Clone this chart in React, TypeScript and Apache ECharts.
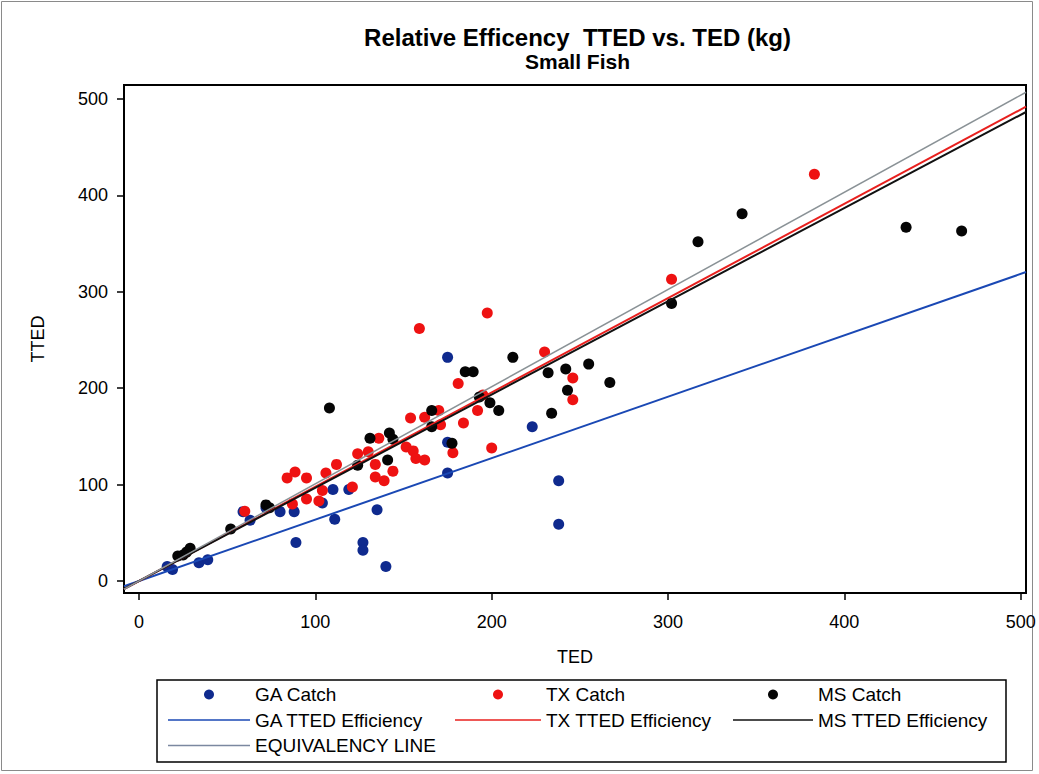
import React, { useEffect, useRef } from "react";
import * as echarts from "echarts";

// ---- data ----
const GA_X = [16, 19, 34, 39, 59, 63, 72, 80, 88, 89, 104, 110, 119, 111, 127, 127, 135, 140, 175, 175, 175, 223, 238, 238];
const GA_Y = [15, 12, 19, 22, 72, 63, 76, 72, 72, 40, 81, 95, 95, 64, 40, 32, 74, 15, 232, 144, 112, 160, 104, 59];

const TX_X = [60, 84, 88.5, 95, 87, 95, 102, 104, 106, 112, 121, 124, 130, 134, 136, 134, 139, 144, 151.5, 154, 155.5, 157, 162, 162, 170, 171, 178, 184, 181, 159, 197.5, 192, 195, 200, 230, 246, 246, 302, 383];
const TX_Y = [72.5, 107, 113, 107, 80, 85, 83, 94, 112, 121, 97.5, 132, 134, 121, 148, 108, 104, 114, 139, 169, 135, 127, 125.5, 170, 177, 162, 133, 164, 205, 262, 278, 177, 193, 138, 237.5, 210.5, 188, 313, 422];

const MS_X = [22, 25, 27, 29, 52, 72, 74, 108, 124, 131, 142, 144, 141, 166, 166, 177.5, 185, 189.5, 212, 193, 199, 204, 232, 242, 243, 234, 255, 267, 302, 317, 342, 435, 466.5];
const MS_Y = [26, 27, 30, 34, 54, 79, 76, 179.5, 120, 148, 153.5, 147, 125.5, 177, 160, 143, 217, 217, 232, 191, 185, 177, 216, 220, 198, 174, 225, 206, 288, 352, 381, 367, 363];

// fitted lines: [x, y] end points
const GA_LINE = [[-8.5, -5.4], [503, 320.5]];
const TX_LINE = [[-8.5, -8.3], [503, 492]];
const MS_LINE = [[-8.5, -8.2], [503, 486.5]];
const EQ_LINE = [[-8.5, -8.5], [503, 507]];

const X_TICKS = [0, 100, 200, 300, 400, 500];
const Y_TICKS = [0, 100, 200, 300, 400, 500];

const FONT = "Liberation Sans, Arial, sans-serif";
const LINE_ICON = "path://M0 0 L100 0 L100 2 L0 2 Z";

const zip = (xs: number[], ys: number[]) => xs.map((x, i) => [x, ys[i]]);

export default function App() {
  const ref = useRef<HTMLDivElement>(null);
  useEffect(() => {
    if (!ref.current) return;
    const chart = echarts.init(ref.current, undefined, { renderer: "svg" });
    const legendText = { fontSize: 19, fontFamily: FONT, color: "#000" };
    const legendBase = {
      orient: "vertical",
      top: 685,
      padding: 0,
      itemHeight: 10,
      itemGap: 6.5,
      selectedMode: false,
      textStyle: legendText,
    };
    const axisCommon = {
      type: "value",
      nameLocation: "middle",
      nameTextStyle: { fontSize: 18, fontFamily: FONT, color: "#000" },
      splitLine: { show: false },
      axisLine: { show: true, onZero: false, lineStyle: { color: "#000", width: 2 } },
    };
    const scatterStyle = (c: string) => ({ color: c, opacity: 1 });
    chart.setOption({
      animation: false,
      backgroundColor: "#fff",
      title: {
        text: "Relative Efficency  TTED vs. TED (kg)",
        subtext: "Small Fish",
        left: 577.5,
        top: 25,
        textAlign: "center",
        padding: 0,
        itemGap: 2,
        textStyle: { fontSize: 24, fontWeight: "bold", fontFamily: FONT, color: "#000" },
        subtextStyle: { fontSize: 21, fontWeight: "bold", fontFamily: FONT, color: "#000" },
      },
      grid: {
        left: 124,
        right: 13,
        top: 85,
        bottom: 181,
        show: true,
        borderColor: "#000",
        borderWidth: 2,
        backgroundColor: "#fff",
      },
      xAxis: {
        ...axisCommon,
        name: "TED",
        nameGap: 55,
        min: -8.5,
        max: 503,
        axisTick: { show: true, customValues: X_TICKS, length: 7, lineStyle: { color: "#000", width: 1.5 } },
        axisLabel: { customValues: X_TICKS, fontSize: 18, fontFamily: FONT, color: "#000", margin: 20 },
      },
      yAxis: {
        ...axisCommon,
        name: "TTED",
        nameGap: 77,
        min: -12.4,
        max: 514.5,
        axisTick: { show: true, customValues: Y_TICKS, length: 7, lineStyle: { color: "#000", width: 1.5 } },
        axisLabel: { customValues: Y_TICKS, fontSize: 18, fontFamily: FONT, color: "#000", margin: 16 },
      },
      legend: [
        {
          ...legendBase,
          left: 168,
          itemWidth: 82,
          data: [
            { name: "GA Catch", icon: "circle" },
            { name: "GA TTED Efficiency", icon: LINE_ICON },
            { name: "EQUIVALENCY LINE", icon: LINE_ICON },
          ],
        },
        {
          ...legendBase,
          left: 455,
          itemWidth: 86,
          data: [
            { name: "TX Catch", icon: "circle" },
            { name: "TX TTED Efficiency", icon: LINE_ICON },
          ],
        },
        {
          ...legendBase,
          left: 733,
          itemWidth: 80,
          data: [
            { name: "MS Catch", icon: "circle" },
            { name: "MS TTED Efficiency", icon: LINE_ICON },
          ],
        },
      ],
      graphic: [
        {
          type: "rect",
          shape: { x: 1.5, y: 1.5, width: 1031, height: 769 },
          style: { fill: "none", stroke: "#8a8a8a", lineWidth: 1 },
          silent: true,
        },
        {
          type: "rect",
          shape: { x: 157, y: 680, width: 849, height: 82 },
          style: { fill: "none", stroke: "#000", lineWidth: 1.5 },
          silent: true,
        },
      ],
      series: [
        {
          name: "GA Catch",
          type: "scatter",
          symbol: "circle",
          symbolSize: 11,
          itemStyle: scatterStyle("#0f2a8e"),
          data: zip(GA_X, GA_Y),
        },
        {
          name: "TX Catch",
          type: "scatter",
          symbol: "circle",
          symbolSize: 11,
          itemStyle: scatterStyle("#ee1212"),
          data: zip(TX_X, TX_Y),
        },
        {
          name: "MS Catch",
          type: "scatter",
          symbol: "circle",
          symbolSize: 11,
          itemStyle: scatterStyle("#050505"),
          data: zip(MS_X, MS_Y),
        },
        {
          name: "GA TTED Efficiency",
          type: "line",
          symbol: "none",
          showSymbol: false,
          lineStyle: { color: "#1a48b4", width: 2 },
          itemStyle: { color: "#1a48b4" },
          data: GA_LINE,
        },
        {
          name: "TX TTED Efficiency",
          type: "line",
          symbol: "none",
          showSymbol: false,
          lineStyle: { color: "#e8201e", width: 2 },
          itemStyle: { color: "#e8201e" },
          data: TX_LINE,
        },
        {
          name: "MS TTED Efficiency",
          type: "line",
          symbol: "none",
          showSymbol: false,
          lineStyle: { color: "#111", width: 2 },
          itemStyle: { color: "#111" },
          data: MS_LINE,
        },
        {
          name: "EQUIVALENCY LINE",
          type: "line",
          symbol: "none",
          showSymbol: false,
          lineStyle: { color: "#8a9296", width: 1.5 },
          itemStyle: { color: "#7b88a0" },
          data: EQ_LINE,
        },
      ],
    });
    return () => chart.dispose();
  }, []);
  return (
    <div
      ref={ref}
      style={{ position: "fixed", left: 0, top: 0, width: 1039, height: 774, background: "#fff" }}
    />
  );
}
